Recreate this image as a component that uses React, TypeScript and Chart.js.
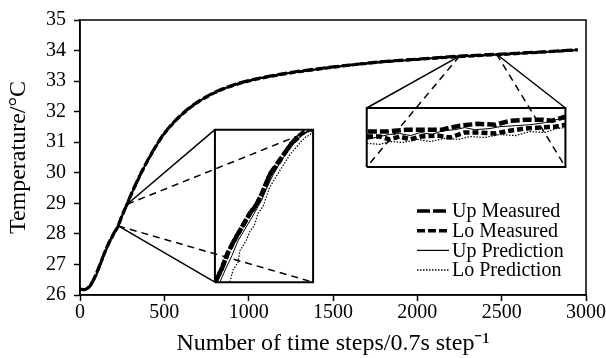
import React, { useEffect, useRef } from 'react';
import { Chart, registerables } from 'chart.js';

Chart.register(...registerables);

// ---------- main data ----------
const TIME_STEPS = [0, 25, 50, 75, 100, 125, 150, 175, 200, 225, 250, 275, 300, 350, 400, 450, 500, 600, 700, 800, 900, 1000, 1200, 1400, 1600, 1800, 2000, 2250, 2500, 2750, 2950];
const UP_MEASURED = [26.20, 26.18, 26.25, 26.45, 26.75, 27.10, 27.45, 27.76, 28.02, 28.26, 28.62, 28.93, 29.26, 29.86, 30.40, 30.88, 31.30, 31.90, 32.33, 32.64, 32.86, 33.02, 33.24, 33.40, 33.53, 33.64, 33.72, 33.82, 33.89, 33.96, 34.03];
const LO_MEASURED = [26.19, 26.17, 26.24, 26.43, 26.73, 27.08, 27.43, 27.74, 28.00, 28.24, 28.60, 28.91, 29.24, 29.84, 30.38, 30.86, 31.28, 31.88, 32.31, 32.62, 32.84, 33.00, 33.22, 33.38, 33.52, 33.63, 33.71, 33.80, 33.87, 33.95, 34.02];
const UP_PREDICTION = [26.20, 26.19, 26.23, 26.42, 26.72, 27.07, 27.43, 27.74, 28.00, 28.24, 28.60, 28.92, 29.25, 29.85, 30.39, 30.87, 31.29, 31.89, 32.32, 32.63, 32.85, 33.01, 33.23, 33.39, 33.52, 33.63, 33.71, 33.81, 33.88, 33.95, 34.02];
const LO_PREDICTION = [26.19, 26.18, 26.21, 26.38, 26.66, 27.00, 27.36, 27.68, 27.95, 28.19, 28.54, 28.86, 29.19, 29.80, 30.35, 30.84, 31.26, 31.86, 32.30, 32.61, 32.83, 32.99, 33.21, 33.37, 33.51, 33.62, 33.70, 33.79, 33.86, 33.94, 34.01];
const SERIES_LABELS = ['Up Measured', 'Lo Measured', 'Up Prediction', 'Lo Prediction'];

const X_RANGE = [0, 3000];
const X_STEP = 500;
const Y_RANGE = [26, 35];
const Y_STEP = 1;
const X_TITLE = 'Number of time steps/0.7s step\u207B\u00B9';
const Y_TITLE = 'Temperature/\u00B0C';

// ---------- inset 1 (magnified region of the rise) ----------
const ZOOM1_STEPS = [227, 280];
const ZOOM1_TEMPS = [28.25, 28.96];
const BOX1_STEPS = [800, 1382];
const BOX1_TEMPS = [26.42, 31.41];
const ZOOM1_ANCHOR_LOW = [227, 28.26];
const ZOOM1_ANCHOR_HIGH = [280, 28.97];
const INSET1_UP_MEASURED = [[227.5, 28.255], [230.8, 28.314], [234.0, 28.387], [237.8, 28.452], [241.6, 28.507], [245.9, 28.571], [249.7, 28.616], [252.4, 28.662], [256.7, 28.754], [261.1, 28.809], [264.9, 28.855], [268.6, 28.900], [273.0, 28.937], [275.5, 28.952]];
const INSET1_LO_MEASURED = [[227.0, 28.250], [230.5, 28.310], [233.6, 28.380], [237.5, 28.445], [241.2, 28.500], [245.5, 28.565], [249.3, 28.610], [252.0, 28.655], [256.3, 28.745], [260.8, 28.800], [264.5, 28.850], [268.2, 28.895], [272.6, 28.930]];
const INSET1_UP_PREDICTION = [[229.7, 28.250], [232.9, 28.314], [236.2, 28.374], [239.4, 28.442], [243.2, 28.497], [247.0, 28.552], [250.3, 28.603], [252.4, 28.635], [254.6, 28.681], [257.8, 28.740], [262.2, 28.809], [266.5, 28.864], [270.8, 28.910], [275.1, 28.946], [279.5, 28.960]];
const INSET1_LO_PREDICTION = [[235.1, 28.250], [236.7, 28.305], [239.4, 28.342], [240.5, 28.397], [243.8, 28.442], [245.9, 28.488], [248.1, 28.511], [250.3, 28.571], [253.0, 28.603], [254.6, 28.644], [256.7, 28.694], [258.9, 28.726], [262.2, 28.772], [264.9, 28.809], [267.6, 28.846], [270.8, 28.878], [274.0, 28.910], [276.2, 28.928], [278.4, 28.937], [279.5, 28.955]];

// ---------- inset 2 (magnified region of the plateau) ----------
const ZOOM2_STEPS = [2250, 2470];
const ZOOM2_TEMPS = [33.70, 33.95];
const BOX2_STEPS = [1700, 2878];
const BOX2_TEMPS = [30.19, 32.12];
const ZOOM2_ANCHOR_LEFT = [2250, 33.82];
const ZOOM2_ANCHOR_RIGHT = [2470, 33.88];
const INSET2_UP_MEASURED = [[2251, 33.850], [2272, 33.850], [2281, 33.854], [2294, 33.858], [2314, 33.858], [2333, 33.858], [2342, 33.867], [2353, 33.875], [2372, 33.883], [2392, 33.879], [2408, 33.896], [2425, 33.900], [2445, 33.900], [2455, 33.896], [2469, 33.913]];
const INSET2_LO_MEASURED = [[2250, 33.829], [2264, 33.829], [2275, 33.817], [2286, 33.829], [2298, 33.817], [2309, 33.829], [2328, 33.833], [2342, 33.825], [2358, 33.846], [2375, 33.846], [2392, 33.842], [2408, 33.854], [2425, 33.863], [2441, 33.867], [2458, 33.871], [2470, 33.879]];
const INSET2_UP_PREDICTION = [[2250, 33.817], [2264, 33.829], [2275, 33.838], [2286, 33.842], [2298, 33.833], [2309, 33.846], [2322, 33.838], [2334, 33.854], [2347, 33.858], [2358, 33.867], [2369, 33.858], [2386, 33.863], [2397, 33.871], [2414, 33.875], [2430, 33.879], [2447, 33.888], [2458, 33.900], [2470, 33.904]];
const INSET2_LO_PREDICTION = [[2250, 33.800], [2264, 33.796], [2276, 33.808], [2290, 33.804], [2306, 33.817], [2320, 33.808], [2336, 33.821], [2351, 33.817], [2364, 33.829], [2380, 33.825], [2397, 33.838], [2414, 33.833], [2430, 33.850], [2447, 33.846], [2459, 33.863], [2470, 33.867]];

// ---------- styles ----------
const FONT = 'Liberation Serif, "Times New Roman", serif';
const MAIN_STYLES = [
  { width: 3, dash: [10, 3] },
  { width: 3, dash: [6, 3] },
  { width: 2, dash: [] },
  { width: 1.2, dash: [2, 2] },
];
const INSET_STYLES = [
  { width: 4.5, dash: [9, 3] },
  { width: 4.5, dash: [6, 3] },
  { width: 1, dash: [] },
  { width: 1.2, dash: [1.5, 1.5] },
];
const LEGEND_STYLES = [
  { width: 3.5, dash: [13, 3] },
  { width: 3.5, dash: [8, 3] },
  { width: 1.2, dash: [] },
  { width: 1.5, dash: [1.5, 1.5] },
];

const pts = (xs: number[], ys: number[]) => xs.map((x, i) => ({ x, y: ys[i] }));
const pairs = (arr: number[][]) => arr.map(([x, y]) => ({ x, y }));
const seg = (a: number[], b: number[]) => [{ x: a[0], y: a[1] }, { x: b[0], y: b[1] }];

const frameBorder = {
  id: 'frameBorder',
  afterDatasetsDraw(chart: any) {
    const { ctx, chartArea } = chart;
    ctx.save();
    ctx.strokeStyle = '#000';
    ctx.lineWidth = 1.5;
    ctx.strokeRect(chartArea.left, chartArea.top, chartArea.right - chartArea.left, chartArea.bottom - chartArea.top);
    ctx.restore();
  },
};

const cornerLegend = {
  id: 'cornerLegend',
  afterDraw(chart: any) {
    const { ctx, chartArea } = chart;
    ctx.save();
    ctx.font = `20px ${FONT}`;
    ctx.fillStyle = '#000';
    ctx.strokeStyle = '#000';
    ctx.textBaseline = 'middle';
    SERIES_LABELS.forEach((label, i) => {
      const y = chartArea.bottom - 84 + i * 19.7;
      const x0 = chartArea.right - 169;
      const st = LEGEND_STYLES[i];
      ctx.beginPath();
      ctx.setLineDash(st.dash);
      ctx.lineWidth = st.width;
      ctx.moveTo(x0, y);
      ctx.lineTo(x0 + 32, y);
      ctx.stroke();
      ctx.setLineDash([]);
      ctx.fillText(label, x0 + 35, y + 1);
    });
    ctx.restore();
  },
};

function lineDs(data: any[], st: { width: number; dash: number[] }, extra: any = {}) {
  return {
    data,
    showLine: true,
    borderColor: '#000',
    backgroundColor: '#000',
    borderWidth: st.width,
    borderDash: st.dash,
    pointRadius: 0,
    fill: false,
    ...extra,
  };
}

function insetConfig(series: number[][][], steps: number[], temps: number[]) {
  return {
    type: 'scatter' as const,
    data: {
      datasets: series.map((s, i) => lineDs(pairs(s), INSET_STYLES[i], { label: SERIES_LABELS[i] })),
    },
    options: {
      responsive: false,
      animation: false as const,
      devicePixelRatio: 1,
      events: [],
      layout: { padding: 0 },
      plugins: { legend: { display: false }, tooltip: { enabled: false } },
      scales: {
        x: { type: 'linear' as const, display: false, min: steps[0], max: steps[1] },
        y: { type: 'linear' as const, display: false, min: temps[0], max: temps[1] },
      },
    },
  };
}

export default function App() {
  const mainRef = useRef<HTMLCanvasElement>(null);
  const inset1Ref = useRef<HTMLCanvasElement>(null);
  const inset2Ref = useRef<HTMLCanvasElement>(null);

  useEffect(() => {
    document.body.style.margin = '0';
    const mainSeries = [UP_MEASURED, LO_MEASURED, UP_PREDICTION, LO_PREDICTION];
    const box = (sx: number[], ty: number[]) => [
      { x: sx[0], y: ty[0] }, { x: sx[0], y: ty[1] }, { x: sx[1], y: ty[1] }, { x: sx[1], y: ty[0] }, { x: sx[0], y: ty[0] },
    ];
    const solid = { width: 1.5, dash: [] };
    const dashed = { width: 1.5, dash: [7, 5] };
    const datasets: any[] = [
      ...mainSeries.map((s, i) => lineDs(pts(TIME_STEPS, s), MAIN_STYLES[i], { label: SERIES_LABELS[i], cubicInterpolationMode: 'monotone' })),
      lineDs(box(BOX1_STEPS, BOX1_TEMPS), { width: 2, dash: [] }),
      lineDs(box(BOX2_STEPS, BOX2_TEMPS), { width: 2, dash: [] }),
      lineDs(seg(ZOOM1_ANCHOR_HIGH, [BOX1_STEPS[0], BOX1_TEMPS[1]]), solid),
      lineDs(seg(ZOOM1_ANCHOR_HIGH, [BOX1_STEPS[1], BOX1_TEMPS[1]]), dashed),
      lineDs(seg(ZOOM1_ANCHOR_LOW, [BOX1_STEPS[0], BOX1_TEMPS[0]]), solid),
      lineDs(seg(ZOOM1_ANCHOR_LOW, [BOX1_STEPS[1], BOX1_TEMPS[0]]), dashed),
      lineDs(seg(ZOOM2_ANCHOR_LEFT, [BOX2_STEPS[0], BOX2_TEMPS[1]]), solid),
      lineDs(seg(ZOOM2_ANCHOR_LEFT, [BOX2_STEPS[0], BOX2_TEMPS[0]]), dashed),
      lineDs(seg(ZOOM2_ANCHOR_RIGHT, [BOX2_STEPS[1], BOX2_TEMPS[1]]), solid),
      lineDs(seg(ZOOM2_ANCHOR_RIGHT, [BOX2_STEPS[1], BOX2_TEMPS[0]]), dashed),
    ];

    const axisCommon = {
      grid: { drawOnChartArea: false, drawTicks: true, tickLength: 6, tickColor: '#000', tickWidth: 1.5 },
      border: { display: true, color: '#000', width: 1.5 },
    };

    const main = new Chart(mainRef.current!, {
      type: 'scatter',
      data: { datasets },
      options: {
        responsive: false,
        animation: false,
        devicePixelRatio: 1,
        events: [],
        layout: { padding: { top: 15, right: 19, left: 0, bottom: 0 } },
        plugins: { legend: { display: false }, tooltip: { enabled: false } },
        scales: {
          x: {
            type: 'linear',
            min: X_RANGE[0],
            max: X_RANGE[1],
            ...axisCommon,
            ticks: { stepSize: X_STEP, color: '#000', font: { family: FONT, size: 20 }, padding: 0, maxRotation: 0, format: { useGrouping: false } },
            title: { display: true, text: X_TITLE, color: '#000', font: { family: FONT, size: 24 }, padding: { top: 0, bottom: 0 } },
            afterFit: (s: any) => { s.height = 63; },
          },
          y: {
            type: 'linear',
            min: Y_RANGE[0],
            max: Y_RANGE[1],
            ...axisCommon,
            ticks: { stepSize: Y_STEP, color: '#000', font: { family: FONT, size: 20 }, padding: 8 },
            title: { display: true, text: Y_TITLE, color: '#000', font: { family: FONT, size: 24 }, padding: { top: 4, bottom: 4 } },
            afterFit: (s: any) => { s.width = 80; },
          },
        },
      },
      plugins: [frameBorder, cornerLegend],
    });

    const xs = main.scales.x;
    const ys = main.scales.y;
    const place = (c: HTMLCanvasElement, sx: number[], ty: number[]) => {
      const l = xs.getPixelForValue(sx[0]);
      const r = xs.getPixelForValue(sx[1]);
      const t = ys.getPixelForValue(ty[1]);
      const b = ys.getPixelForValue(ty[0]);
      c.width = Math.round(r - l);
      c.height = Math.round(b - t);
      c.style.left = `${Math.round(l)}px`;
      c.style.top = `${Math.round(t)}px`;
      c.style.width = `${Math.round(r - l)}px`;
      c.style.height = `${Math.round(b - t)}px`;
    };
    place(inset1Ref.current!, BOX1_STEPS, BOX1_TEMPS);
    place(inset2Ref.current!, BOX2_STEPS, BOX2_TEMPS);

    const in1 = new Chart(inset1Ref.current!, insetConfig([INSET1_UP_MEASURED, INSET1_LO_MEASURED, INSET1_UP_PREDICTION, INSET1_LO_PREDICTION], ZOOM1_STEPS, ZOOM1_TEMPS) as any);
    const in2 = new Chart(inset2Ref.current!, insetConfig([INSET2_UP_MEASURED, INSET2_LO_MEASURED, INSET2_UP_PREDICTION, INSET2_LO_PREDICTION], ZOOM2_STEPS, ZOOM2_TEMPS) as any);

    return () => {
      main.destroy();
      in1.destroy();
      in2.destroy();
    };
  }, []);

  return (
    <div style={{ position: 'relative', width: 606, height: 358, background: '#fff' }}>
      <canvas ref={mainRef} width={606} height={358} style={{ display: 'block', position: 'absolute', left: 0, top: 0 }} />
      <canvas ref={inset1Ref} style={{ position: 'absolute' }} />
      <canvas ref={inset2Ref} style={{ position: 'absolute' }} />
    </div>
  );
}
